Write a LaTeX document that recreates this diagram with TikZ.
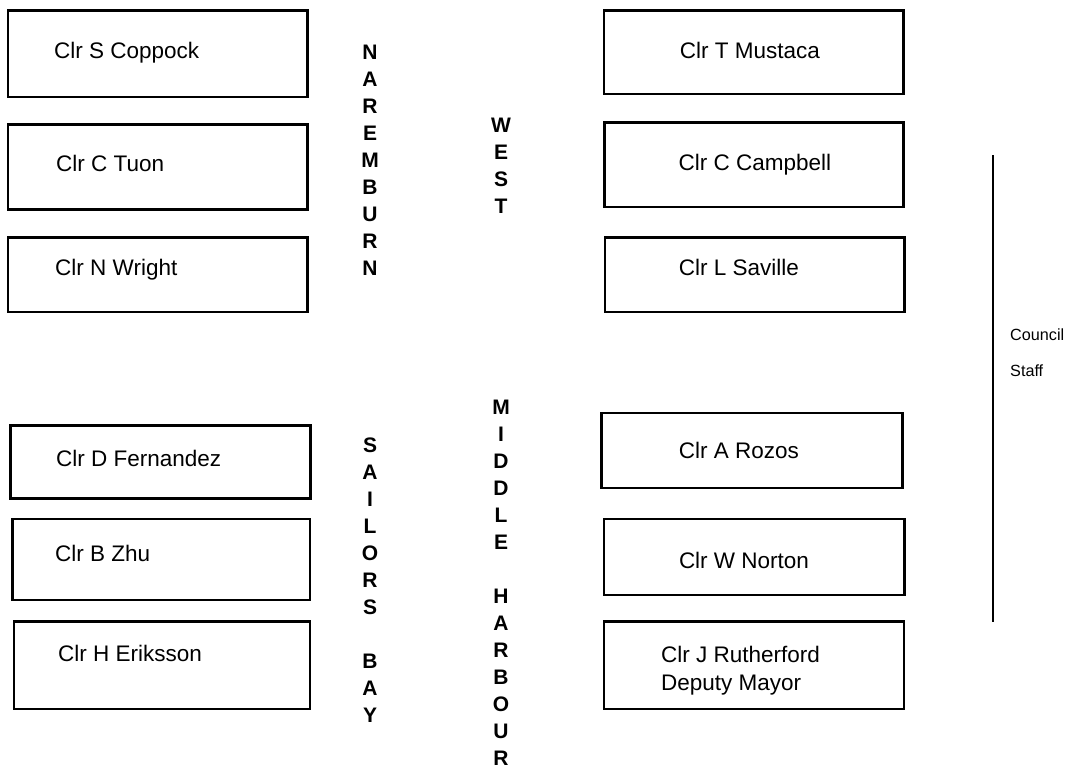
\documentclass[tikz,border=0pt]{standalone}
\usepackage{fontspec}
\setmainfont{Liberation Sans}
\begin{document}
\begin{tikzpicture}[x=1pt,y=-1pt,
  cbox/.style={draw=black, line width=2.6pt, rectangle, inner sep=0pt, outer sep=0pt},
  ctext/.style={inner sep=0pt, font=\fontsize{22.5}{28}\selectfont},
  vword/.style={inner sep=0pt, align=center, anchor=north, font=\fontsize{21}{27}\selectfont\bfseries},
  stafftext/.style={inner sep=0pt, anchor=base west, font=\fontsize{16.2}{20}\selectfont}]
\useasboundingbox (0,0) rectangle (1084,764);
\fill[white] (0,0) rectangle (1084,764);
% left column boxes
\node[cbox, minimum width=299.5pt, minimum height=86.3pt] (b1) at (157.75,53.85) {};
\node[cbox, minimum width=299.5pt, minimum height=84.6pt] (b2) at (157.75,167) {};
\node[cbox, minimum width=299.5pt, minimum height=74.7pt] (b3) at (157.75,274.65) {};
\node[cbox, minimum width=300pt, minimum height=73.4pt] (b4) at (160.7,462) {};
\node[cbox, minimum width=297.8pt, minimum height=81pt] (b5) at (161.1,559.5) {};
\node[cbox, minimum width=296pt, minimum height=87.7pt] (b6) at (162,665.15) {};
% right column boxes
\node[cbox, minimum width=299.3pt, minimum height=83.7pt] (b7) at (753.65,52.15) {};
\node[cbox, minimum width=298.6pt, minimum height=84.3pt] (b8) at (754,164.85) {};
\node[cbox, minimum width=299.7pt, minimum height=74.7pt] (b9) at (754.85,274.65) {};
\node[cbox, minimum width=301pt, minimum height=75pt] (b10) at (752.2,450.5) {};
\node[cbox, minimum width=300.7pt, minimum height=76pt] (b11) at (754.35,557) {};
\node[cbox, minimum width=300pt, minimum height=87.7pt] (b12) at (754,665.15) {};
% labels
\node[ctext, anchor=base west] (t1) at (54,58) {Clr S Coppock};
\node[ctext, anchor=base west] (t2) at (56,171) {Clr C Tuon};
\node[ctext, anchor=base west] (t3) at (55,275) {Clr N Wright};
\node[ctext, anchor=base west] (t4) at (56,466) {Clr D Fernandez};
\node[ctext, anchor=base west] (t5) at (55,561) {Clr B Zhu};
\node[ctext, anchor=base west] (t6) at (58,661) {Clr H Eriksson};
\node[ctext, anchor=base] (t7) at (750,58) {Clr T Mustaca};
\node[ctext, anchor=base] (t8) at (755,170) {Clr C Campbell};
\node[ctext, anchor=base] (t9) at (739,275) {Clr L Saville};
\node[ctext, anchor=base] (t10) at (739,458) {Clr A Rozos};
\node[ctext, anchor=base] (t11) at (744,568) {Clr W Norton};
\node[ctext, anchor=north west, align=left] (t12) at (661,646) {Clr J Rutherford\\Deputy Mayor};
% ward names
\node[vword] (naremburn) at (370,44.5) {N\\A\\R\\E\\M\\B\\U\\R\\N};
\node[vword] (west) at (501,117.5) {W\\E\\S\\T};
\node[vword] (sailors) at (370,437.5) {S\\A\\I\\L\\O\\R\\S\\[27pt]B\\A\\Y};
\node[vword] (middle) at (501,399.5) {M\\I\\D\\D\\L\\E\\[27pt]H\\A\\R\\B\\O\\U\\R};
% council staff
\coordinate (s1) at (993,155);
\coordinate (s2) at (993,622);
\draw[line width=1.3pt] (s1) -- (s2);
\node[stafftext] (council) at (1010,340) {Council};
\node[stafftext] (staff) at (1010,376) {Staff};
\end{tikzpicture}
\end{document}
